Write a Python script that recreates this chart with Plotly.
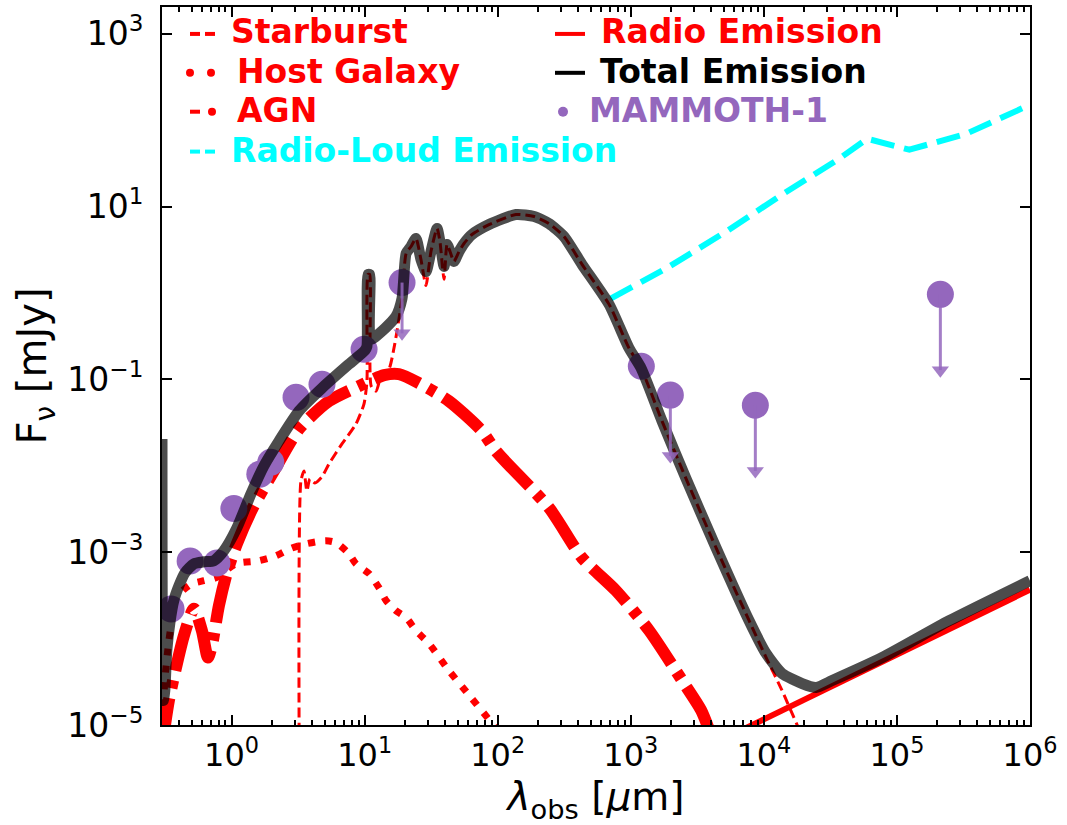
import numpy as np
import plotly.graph_objects as go

# ---------------- data ----------------
total_wave = [0.300, 0.307, 0.315, 0.326, 0.344, 0.368, 0.402, 0.446, 0.521, 0.619,
              0.736, 0.875, 1.096, 1.397, 1.749, 2.27, 3.21, 4.77, 7.62, 10.05,
              10.4, 10.6, 10.9, 11.1, 13.5, 17.2, 19.1, 20.5, 22.3, 24.3,
              26.5, 28.9, 31.5, 35.0, 36.8, 39.5, 41.6, 43.8, 46.9, 51.2,
              55.8, 64.1, 86.0, 137, 188, 243, 315, 430, 687, 971,
              1195, 1718, 2606, 4378, 7750, 10400, 13700, 19400, 24700, 32600,
              77600, 247000, 1000000]
total_flux = [0.0204, 1.92e-5, 2.51e-5, 7.26e-5, 1.53e-4, 2.75e-4, 4.09e-4, 5.78e-4, 7.34e-4, 7.74e-4,
              7.96e-4, 1.04e-3, 1.91e-3, 4.72e-3, 9.95e-3, 0.0193, 0.0430, 0.0791, 0.150, 0.217,
              0.241, 1.64, 1.64, 0.291, 0.361, 0.537, 0.867, 2.87, 3.45, 4.27,
              2.44, 1.77, 3.02, 5.57, 3.94, 2.03, 3.64, 3.02, 2.32, 3.02,
              3.74, 4.75, 6.19, 8.09, 7.67, 6.36, 4.50, 2.14, 0.738, 0.229,
              0.135, 0.0329, 7.05e-3, 1.12e-3, 1.61e-4, 6.71e-5, 3.94e-5, 3.02e-5, 2.72e-5, 3.27e-5,
              6.04e-5, 1.61e-4, 4.68e-4]

starburst_wave = [3.26, 3.32, 3.50, 3.68, 3.88, 4.23, 4.77, 5.39, 6.75, 8.60,
                  9.88, 10.4, 10.6, 10.9, 11.2, 12.2, 13.5, 15.2, 16.6, 17.5,
                  19.1, 20.5, 22.3, 24.3, 26.5, 28.9, 31.5, 35.0, 36.8, 39.5,
                  41.6, 43.8, 46.9, 51.2, 55.8, 64.1, 86.0, 137, 188, 243,
                  315, 430, 687, 971, 1195, 1718, 2606, 4378, 7750, 10400,
                  13700, 17800, 21900]
starburst_flux = [1e-7, 6.67e-3, 8.71e-3, 5.11e-3, 7.05e-3, 6.32e-3, 7.43e-3, 0.0105, 0.0179, 0.0304,
                  0.0518, 0.0953, 1.64, 1.64, 0.0836, 0.0731, 0.118, 0.131, 0.229, 0.361,
                  0.867, 2.87, 3.45, 4.27, 2.44, 1.22, 3.02, 5.57, 3.94, 1.44,
                  3.64, 3.02, 2.32, 3.02, 3.74, 4.75, 6.19, 8.09, 7.67, 6.36,
                  4.50, 2.14, 0.738, 0.229, 0.135, 0.0329, 7.05e-3, 1.12e-3, 1.61e-4, 6.04e-5,
                  2.51e-5, 1.0e-5, 5.0e-6]

agn_wave = [0.300, 0.338, 0.375, 0.438, 0.521, 0.598, 0.664, 0.711, 0.803, 0.922,
            1.096, 1.47, 2.08, 3.21, 5.39, 9.06, 14.0, 18.1, 25.6, 43.0,
            76.2, 97.1, 243, 430, 775, 1373, 2431, 3378, 4015]
agn_flux = [5.81e-6, 1.92e-5, 4.05e-5, 1.08e-4, 2.22e-4, 1.24e-4, 6.04e-5, 8.30e-5, 2.40e-4, 5.78e-4,
            1.25e-3, 3.44e-3, 8.71e-3, 0.0266, 0.0560, 0.0836, 0.112, 0.115, 0.0904, 0.0560,
            0.0252, 0.0148, 3.26e-3, 8.61e-4, 3.58e-4, 1.24e-4, 3.27e-5, 1.48e-5, 7.59e-6]

host_wave = [0.300, 0.315, 0.338, 0.368, 0.416, 0.503, 0.619, 0.762, 1.077, 1.60,
             2.15, 2.84, 3.62, 5.12, 6.08, 7.62, 8.60, 10.8, 12.8, 14.5,
             17.2, 20.5, 24.3, 30.4, 43.0, 63.0, 90.6, 111]
host_flux = [6.64e-6, 3.27e-5, 9.48e-5, 2.10e-4, 3.40e-4, 4.31e-4, 4.68e-4, 5.06e-4, 7.34e-4, 7.96e-4,
             9.08e-4, 1.12e-3, 1.25e-3, 1.36e-3, 1.29e-3, 9.60e-4, 7.34e-4, 5.64e-4, 3.88e-4, 2.75e-4,
             2.10e-4, 1.75e-4, 1.24e-4, 8.75e-5, 4.26e-5, 2.08e-5, 1.04e-5, 6.64e-6]

radio_wave = [6520, 1000000]
radio_flux = [8.44e-6, 3.68e-4]

radio_loud_wave = [711, 1842, 5210, 13700, 36800, 59800, 124000, 332000, 1000000]
radio_loud_flux = [0.867, 1.92, 5.14, 13.8, 35.8, 61.0, 45.5, 69.7, 151]

obs_wave = [0.351, 0.488, 0.776, 1.04, 1.63, 1.97, 3.05, 4.78, 9.9, 19.1, 1200, 1983, 8630, 212000]
obs_flux = [2.2e-4, 7.9e-4, 7.5e-4, 3.2e-3, 8.0e-3, 0.011, 0.062, 0.088, 0.223, 1.32, 0.142, 0.0658, 0.0503, 0.964]

limit_wave = [19.1, 1983, 8630, 212000]
limit_flux = [1.32, 0.0658, 0.0503, 0.964]
limit_arrow_end = [0.341, 0.0130, 0.00871, 0.128]

x_tick_vals = [1, 10, 100, 1000, 10000, 100000, 1000000]
x_tick_text = ["10<sup>0</sup>", "10<sup>1</sup>", "10<sup>2</sup>", "10<sup>3</sup>",
               "10<sup>4</sup>", "10<sup>5</sup>", "10<sup>6</sup>"]
y_tick_vals = [1e-5, 1e-3, 1e-1, 10, 1000]
y_tick_text = ["10<sup>−5</sup>", "10<sup>−3</sup>", "10<sup>−1</sup>", "10<sup>1</sup>", "10<sup>3</sup>"]

# ---------------- layout helpers ----------------
W, H = 1067, 825
ML, MR, MT, MB = 162, 37, 5, 100
PW, PH = W - ML - MR, H - MT - MB


def px_x(px):
    return (px - ML) / PW


def px_y(py):
    return (H - MB - py) / PH


RED = "#ff0000"
CYAN = "#00ffff"
PURPLE = "#9467bd"
PURPLE_LIGHT = "rgba(148,103,189,0.85)"
FONT = "DejaVu Sans"

fig = go.Figure()

fig.add_trace(go.Scatter(x=radio_loud_wave, y=radio_loud_flux, mode="lines", name="Radio-Loud Emission",
                         line=dict(color=CYAN, width=6, dash="24px,10px"), showlegend=False))
fig.add_trace(go.Scatter(x=host_wave, y=host_flux, mode="lines", name="Host Galaxy",
                         line=dict(color=RED, width=7, dash="7px,10px", shape="spline", smoothing=0.7),
                         showlegend=False))
fig.add_trace(go.Scatter(x=agn_wave, y=agn_flux, mode="lines", name="AGN",
                         line=dict(color=RED, width=12, dash="48px,10px,8px,10px", shape="spline", smoothing=0.7),
                         showlegend=False))
fig.add_trace(go.Scatter(x=starburst_wave, y=starburst_flux, mode="lines", name="Starburst",
                         line=dict(color=RED, width=3, dash="10px,5px", shape="spline", smoothing=0.6),
                         showlegend=False))
fig.add_trace(go.Scatter(x=radio_wave, y=radio_flux, mode="lines", name="Radio Emission",
                         line=dict(color=RED, width=6), showlegend=False))
fig.add_trace(go.Scatter(x=obs_wave, y=obs_flux, mode="markers", name="MAMMOTH-1",
                         marker=dict(color=PURPLE, size=27, line=dict(width=0)), showlegend=False))
fig.add_trace(go.Scatter(x=total_wave, y=total_flux, mode="lines", name="Total Emission",
                         line=dict(color="rgba(0,0,0,0.7)", width=11, shape="spline", smoothing=0.6),
                         showlegend=False))

stem_x, stem_y = [], []
for w, f, e in zip(limit_wave, limit_flux, limit_arrow_end):
    stem_x += [w, w, None]
    stem_y += [f, e, None]
fig.add_trace(go.Scatter(x=stem_x, y=stem_y, mode="lines", line=dict(color=PURPLE_LIGHT, width=3),
                         showlegend=False, hoverinfo="skip"))
fig.add_trace(go.Scatter(x=limit_wave, y=limit_arrow_end, mode="markers",
                         marker=dict(symbol="triangle-down", size=15, color=PURPLE_LIGHT, line=dict(width=0)),
                         showlegend=False, hoverinfo="skip"))

# ---------------- legend (text + handles) ----------------
legend_entries = [
    ("Starburst", RED, 229, 30),
    ("Host Galaxy", RED, 235, 70),
    ("AGN", RED, 235, 109),
    ("Radio-Loud Emission", CYAN, 229, 149),
    ("Radio Emission", RED, 599, 30),
    ("Total Emission", "black", 598, 70),
    ("MAMMOTH-1", PURPLE, 587, 109),
]
annotations = []
for label, col, lx, ly in legend_entries:
    annotations.append(dict(x=px_x(lx), y=px_y(ly), xref="paper", yref="paper", xanchor="left",
                            yanchor="middle", showarrow=False, text="<b>" + label + "</b>",
                            font=dict(family=FONT, size=33, color=col)))

shapes = []


def hline(x0, x1, y, col, w=4):
    shapes.append(dict(type="line", xref="paper", yref="paper", x0=px_x(x0), x1=px_x(x1),
                       y0=px_y(y), y1=px_y(y), line=dict(color=col, width=w)))


def dot(cx, cy, r, col):
    shapes.append(dict(type="circle", xref="paper", yref="paper", x0=px_x(cx - r), x1=px_x(cx + r),
                       y0=px_y(cy + r), y1=px_y(cy - r), fillcolor=col, line=dict(width=0)))


hline(190, 200, 32, RED); hline(205, 215, 32, RED)
dot(190, 71, 4, RED); dot(211, 71, 4, RED)
hline(190, 200, 110, RED); dot(212, 110, 4, RED)
hline(190, 200, 150, CYAN); hline(205, 215, 150, CYAN)
hline(555, 585, 32, RED)
hline(555, 585, 71, "black")
dot(563, 110, 5, PURPLE)

minor_vals = []
for d in range(-1, 6):
    for k in range(2, 10):
        v = k * 10 ** d
        if 0.3 <= v <= 1e6:
            minor_vals.append(v)

fig.update_layout(
    width=W, height=H,
    margin=dict(l=ML, r=MR, t=MT, b=MB, pad=0),
    paper_bgcolor="white", plot_bgcolor="white",
    font=dict(family=FONT, color="black"),
    annotations=annotations, shapes=shapes,
    showlegend=False,
)
fig.update_xaxes(
    type="log", range=[np.log10(0.3), 6],
    tickmode="array", tickvals=x_tick_vals, ticktext=x_tick_text,
    ticks="inside", ticklen=10, tickwidth=2, tickcolor="black",
    minor=dict(tickmode="array", tickvals=minor_vals, ticks="inside", ticklen=5, tickwidth=1.5,
               tickcolor="black", showgrid=False),
    showline=True, linewidth=2, linecolor="black", mirror="ticks",
    showgrid=False, zeroline=False,
    tickfont=dict(family=FONT, size=32, color="black"), ticklabelstandoff=1,
    title=dict(text="<i>λ</i><sub>obs</sub> [<i>μ</i>m]", font=dict(family=FONT, size=39, color="black"),
               standoff=6),
)
fig.update_yaxes(
    type="log", range=[-5, 3.31],
    tickmode="array", tickvals=y_tick_vals, ticktext=y_tick_text,
    ticks="inside", ticklen=10, tickwidth=2, tickcolor="black",
    showline=True, linewidth=2, linecolor="black", mirror="ticks",
    showgrid=False, zeroline=False,
    tickfont=dict(family=FONT, size=33, color="black"), ticklabelstandoff=10,
    title=dict(text="F<sub>ν</sub> [mJy]", font=dict(family=FONT, size=40, color="black"), standoff=8),
)

fig.write_html("out.html")
